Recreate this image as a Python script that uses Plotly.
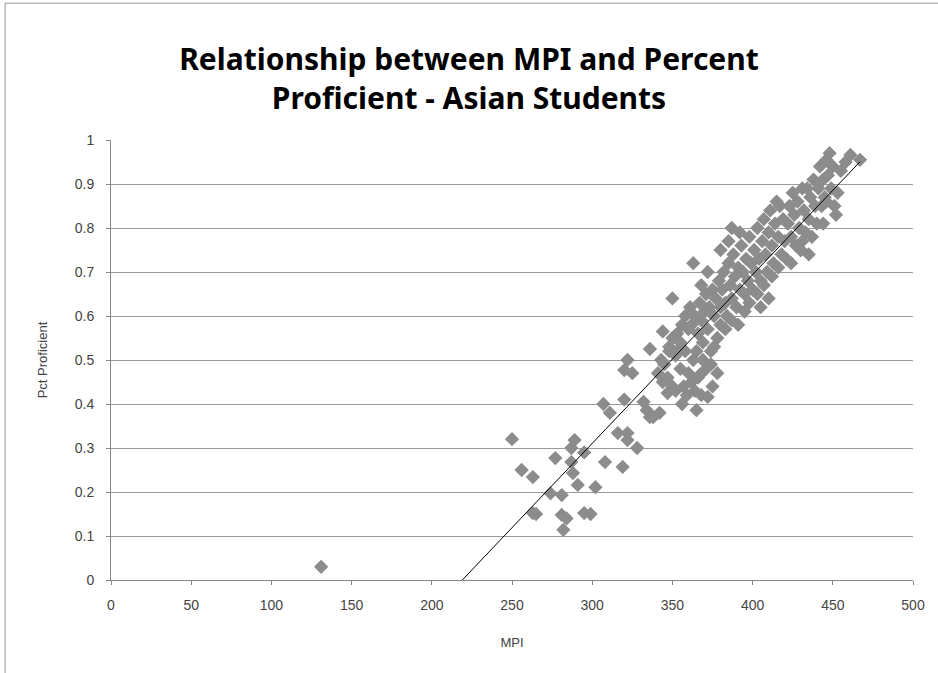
import numpy as np
import plotly.graph_objects as go

# Estimated data (MPI, Pct Proficient)
mpi = [
    131,
    250, 256, 263, 263, 274, 277, 281, 281, 282, 287, 287, 288, 289, 291, 295, 295, 302,
    307, 308, 311, 316, 319, 320, 320, 322, 322, 325, 328, 332, 334, 336, 338, 342,
    344, 347, 347, 348, 350, 322, 336, 344, 265, 284, 299,
    341, 343, 345, 348, 350, 352, 353, 355, 356, 358, 358, 360, 355, 357, 360, 362,
    364, 366, 359, 352, 363, 365, 362, 361, 353, 350, 363, 356, 367, 372, 365,
    364, 366, 367, 368, 369, 370, 371, 372, 373, 374, 375, 376, 377, 378, 379, 380,
    369, 371, 374, 376, 380, 368, 372, 378, 368, 375,
    381, 382, 383, 384, 385, 386, 387, 388, 389, 390, 391, 392, 393, 394, 395, 396,
    397, 398, 399, 400, 383, 387, 391, 395, 385, 392, 390, 398, 380, 387,
    401, 402, 403, 404, 405, 406, 407, 408, 409, 410, 411, 412, 413, 414, 415, 416,
    417, 418, 419, 420, 403, 407, 412, 416, 410, 405,
    421, 422, 423, 424, 425, 426, 427, 428, 429, 430, 431, 432, 433, 434, 435, 436,
    437, 438, 439, 440, 424, 431, 435, 430,
    441, 442, 443, 444, 445, 446, 446, 447, 448, 449, 450, 451, 453, 455, 458, 461,
    467, 444, 452,
]
pct = [
    0.03,
    0.32, 0.25, 0.234, 0.152, 0.197, 0.277, 0.193, 0.148, 0.114, 0.30, 0.268, 0.243, 0.318, 0.216, 0.29, 0.152, 0.211,
    0.40, 0.268, 0.38, 0.334, 0.257, 0.41, 0.477, 0.334, 0.318, 0.47, 0.30, 0.405, 0.386, 0.37, 0.37, 0.38,
    0.45, 0.46, 0.425, 0.52, 0.44, 0.50, 0.525, 0.565, 0.15, 0.14, 0.15,
    0.47, 0.50, 0.49, 0.53, 0.55, 0.51, 0.56, 0.54, 0.58, 0.52, 0.60, 0.57, 0.48, 0.44, 0.47, 0.45,
    0.43, 0.46, 0.42, 0.43, 0.50, 0.52, 0.58, 0.62, 0.52, 0.64, 0.72, 0.40, 0.466, 0.416, 0.386,
    0.60, 0.56, 0.63, 0.59, 0.54, 0.61, 0.65, 0.57, 0.62, 0.52, 0.66, 0.60, 0.64, 0.55, 0.68, 0.62,
    0.50, 0.48, 0.49, 0.53, 0.58, 0.67, 0.70, 0.47, 0.42, 0.44,
    0.66, 0.70, 0.63, 0.60, 0.72, 0.67, 0.64, 0.74, 0.69, 0.62, 0.71, 0.66, 0.76, 0.70, 0.65, 0.73,
    0.68, 0.78, 0.72, 0.66, 0.57, 0.59, 0.58, 0.61, 0.77, 0.79, 0.62, 0.63, 0.75, 0.80,
    0.75, 0.70, 0.80, 0.73, 0.68, 0.77, 0.82, 0.74, 0.70, 0.79, 0.84, 0.76, 0.72, 0.81, 0.86, 0.78,
    0.85, 0.74, 0.82, 0.77, 0.65, 0.67, 0.69, 0.71, 0.64, 0.62,
    0.73, 0.81, 0.85, 0.78, 0.88, 0.83, 0.76, 0.86, 0.80, 0.75, 0.89, 0.84, 0.79, 0.89, 0.82, 0.87,
    0.78, 0.91, 0.85, 0.81, 0.72, 0.77, 0.74, 0.75,
    0.89, 0.94, 0.85, 0.91, 0.87, 0.955, 0.86, 0.92, 0.97, 0.89, 0.94, 0.85, 0.88, 0.93, 0.95, 0.966,
    0.955, 0.81, 0.83,
]

x_ticks = [0, 50, 100, 150, 200, 250, 300, 350, 400, 450, 500]
y_ticks = [0, 0.1, 0.2, 0.3, 0.4, 0.5, 0.6, 0.7, 0.8, 0.9, 1]
y_tick_labels = ["0", "0.1", "0.2", "0.3", "0.4", "0.5", "0.6", "0.7", "0.8", "0.9", "1"]

x = np.array(mpi, dtype=float)
y = np.array(pct, dtype=float)
slope, intercept = np.polyfit(x, y, 1)
tx = np.array([x.min(), x.max()])
ty = slope * tx + intercept

fig = go.Figure()
fig.add_trace(go.Scatter(
    x=mpi, y=pct, mode="markers",
    marker=dict(symbol="diamond", size=11, color="#8c8c8c", line=dict(width=0)),
    showlegend=False, hoverinfo="x+y",
))
fig.add_trace(go.Scatter(
    x=tx, y=ty, mode="lines", line=dict(color="#000000", width=1),
    showlegend=False, hoverinfo="skip",
))

font_family = "Liberation Sans"
tick_color = "#444444"
fig.update_layout(
    width=938, height=673,
    margin=dict(l=111, r=25, t=140, b=93),
    paper_bgcolor="white", plot_bgcolor="white",
    title=dict(
        text="Relationship between MPI and Percent<br>Proficient - Asian Students",
        x=0.5, xref="container", xanchor="center",
        y=1 - 70 / 673, yref="container", yanchor="middle",
        font=dict(family="Noto Sans", size=30, color="#000000", weight="bold"),
    ),
    xaxis=dict(
        range=[0, 500], tickvals=x_ticks, showgrid=False, zeroline=False,
        showline=True, linecolor="#868686", linewidth=1,
        ticks="outside", ticklen=4, tickcolor="#868686", ticklabelstandoff=8,
        tickfont=dict(family=font_family, size=14, color=tick_color),
        title=dict(text="MPI", font=dict(family=font_family, size=13, color=tick_color), standoff=26),
    ),
    yaxis=dict(
        range=[0, 1], tickvals=y_ticks, ticktext=y_tick_labels,
        showgrid=True, gridcolor="#9a9a9a", gridwidth=1, zeroline=False,
        showline=True, linecolor="#868686", linewidth=1,
        ticks="outside", ticklen=4, tickcolor="#868686", ticklabelstandoff=9,
        tickfont=dict(family=font_family, size=14, color=tick_color),
        title=dict(text="Pct Proficient", font=dict(family=font_family, size=13, color=tick_color), standoff=24),
    ),
    shapes=[dict(
        type="rect", xref="paper", yref="paper",
        x0=-0.132, x1=1.05, y0=-0.3, y1=1.311,
        line=dict(color="#9a9a9a", width=1), fillcolor="rgba(0,0,0,0)", layer="below",
    )],
)

fig.write_html("out.html", config={"displayModeBar": False},
               post_script="document.body.style.margin='0px';")
